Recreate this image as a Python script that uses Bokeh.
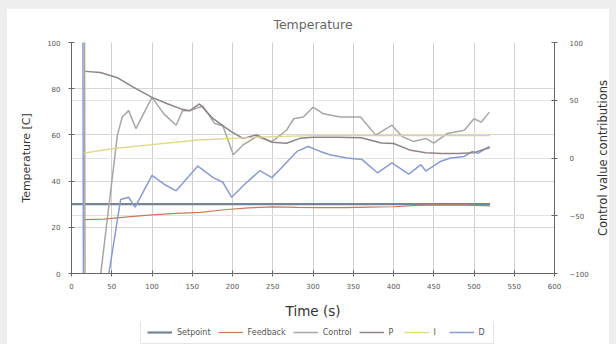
import math
from bokeh.plotting import figure
from bokeh.layouts import column, row
from bokeh.models import Range1d, LinearAxis, Legend, LegendItem, Grid, FixedTicker
from bokeh.core.properties import value
from bokeh.embed import file_html
from bokeh.resources import INLINE

# ---------------- data ----------------
x_ticks = [0, 50, 100, 150, 200, 250, 300, 350, 400, 450, 500, 550, 600]
left_ticks = [0, 20, 40, 60, 80, 100]
right_ticks = [-100, -50, 0, 50, 100]

t_setpoint = [0, 520]
setpoint = [30, 30]

t_feedback = [15, 40, 70, 100, 130, 160, 190, 220, 250, 280, 310, 340, 370, 400, 430, 460, 490, 520]
feedback = [23.3, 23.5, 24.5, 25.4, 26.0, 26.5, 27.6, 28.4, 28.8, 28.6, 28.5, 28.5, 28.7, 28.9, 29.5, 29.7, 29.6, 29.3]

t_control = [15, 18, 36, 57, 63, 71, 80, 100, 115, 130, 138, 147, 163, 178, 188, 201, 213, 230, 249,
             267, 276, 288, 300, 313, 334, 359, 378, 398, 411, 425, 440, 450, 467, 488, 500, 509, 519]
control = [500, -500, -102, 19.8, 35.5, 41, 25.5, 52.5, 38, 28.4, 41, 41, 45, 29.8, 28, 2.8, 11.3, 18.5, 14.2,
           24, 34, 35.5, 44, 38.3, 35.5, 35.5, 19.8, 28.4, 18.5, 14.2, 17, 12.8, 21.3, 24, 34, 31, 39.7]

t_p = [17, 36, 57, 75, 100, 119, 136, 147, 159, 176, 190, 199, 213, 230, 249, 267, 284, 300, 330, 360,
       385, 400, 420, 440, 460, 480, 500, 510, 520]
p_term = [75, 74, 69.5, 62, 52.5, 47, 42.5, 41, 46.8, 34, 27, 22.7, 17, 20, 13.6, 12.8, 17, 18, 18, 17.5,
          13, 12.5, 7, 4.5, 4, 4, 4.5, 7, 9]

t_i = [15, 50, 100, 157, 200, 250, 300, 520]
i_term = [4.3, 8, 11.5, 15.6, 17, 18.5, 19.3, 19.3]

t_d = [13, 16, 46, 61, 71, 79, 100, 115, 130, 157, 176, 188, 199, 215, 234, 249, 263, 280, 294, 309, 321,
       342, 361, 380, 398, 419, 434, 440, 459, 471, 488, 498, 505, 519]
d_term = [500, -500, -102, -36, -34, -42.6, -15, -22.7, -28.4, -7, -17, -21, -34, -22.7, -11, -17, -7, 5.7, 10,
          5.7, 2.8, 0, -1.4, -12.8, -4.3, -14, -5.7, -11.3, -2.8, 0, 1.4, 5.7, 4, 10]

series_names = ["Setpoint", "Feedback", "Control", "P", "I", "D"]
series_colors = ["#76849a", "#c77b5a", "#a6a6a6", "#8d8585", "#e0d68a", "#8a9bd0"]
series_widths = [2.2, 1.2, 1.5, 1.5, 1.3, 1.5]

title_text = "Temperature"
x_label = "Time (s)"
left_label = "Temperature [C]"
right_label = "Control value contributions"

FONT = "DejaVu Sans"

def strip(width, height, **borders):
    f = figure(width=width, height=height, output_backend="svg", toolbar_location=None,
               x_axis_type=None, y_axis_type=None,
               x_range=borders.pop("x_range", Range1d(0, 1)),
               y_range=borders.pop("y_range", Range1d(0, 1)), **borders)
    f.outline_line_color = None
    f.grid.visible = False
    f.background_fill_color = "white"
    f.border_fill_color = "white"
    return f

# ---------------- title strip ----------------
tf = strip(602, 24, min_border_left=64, min_border_right=55, min_border_top=0, min_border_bottom=0)
tf.text(x=[0.5], y=[0.375], text=[title_text], text_align="center", text_baseline="middle",
        text_font=value(FONT), text_font_size="12.5px", text_color="#666666")

# ---------------- main figure ----------------
p = figure(width=588, height=288, output_backend="svg", toolbar_location=None,
           x_range=Range1d(0, 600), y_range=Range1d(0, 100),
           min_border_left=64, min_border_right=41, min_border_top=9, min_border_bottom=44)
p.extra_y_ranges = {"ctrl": Range1d(-100, 100)}
p.outline_line_color = None
p.background_fill_color = "white"
p.border_fill_color = "white"

def style_axis(ax, label_size):
    ax.axis_line_color = "#666666"
    ax.major_tick_line_color = "#666666"
    ax.minor_tick_line_color = None
    ax.major_tick_in = 3
    ax.major_tick_out = 3
    ax.major_label_text_font = FONT
    ax.major_label_text_font_size = "7px"
    ax.major_label_text_color = "#555555"
    ax.axis_label_text_font = FONT
    ax.axis_label_text_font_style = "normal"
    ax.axis_label_text_color = "#333333"
    ax.axis_label_text_font_size = label_size

xa = p.xaxis[0]
xa.ticker = FixedTicker(ticks=x_ticks)
xa.axis_label = x_label
xa.major_label_standoff = 6
xa.axis_label_standoff = 11
style_axis(xa, "13.5px")

ya = p.yaxis[0]
ya.ticker = FixedTicker(ticks=left_ticks)
ya.axis_label = left_label
ya.major_label_standoff = 8
ya.axis_label_standoff = 11
style_axis(ya, "11px")

ra = LinearAxis(y_range_name="ctrl", ticker=FixedTicker(ticks=right_ticks))
ra.major_label_standoff = 12
style_axis(ra, "11px")
p.add_layout(ra, "right")

p.xgrid.ticker = FixedTicker(ticks=x_ticks)
p.xgrid.grid_line_color = "#cfcfcf"
p.ygrid.ticker = FixedTicker(ticks=left_ticks[1:-1])
p.ygrid.grid_line_color = "#d6d6d6"
g2 = Grid(dimension=1, ticker=FixedTicker(ticks=[-50, 0, 50]), y_range_name="ctrl",
          grid_line_color="#e2e2e2")
p.add_layout(g2)

p.line(t_setpoint, setpoint, line_color=series_colors[0], line_width=series_widths[0])
p.line(t_feedback, feedback, line_color=series_colors[1], line_width=series_widths[1])
p.line(t_d, d_term, line_color=series_colors[5], line_width=series_widths[5], y_range_name="ctrl")
p.line(t_control, control, line_color=series_colors[2], line_width=series_widths[2], y_range_name="ctrl")
p.line(t_p, p_term, line_color=series_colors[3], line_width=series_widths[3], y_range_name="ctrl")
p.line(t_i, i_term, line_color=series_colors[4], line_width=series_widths[4], y_range_name="ctrl")

# ---------------- right axis title strip ----------------
rl = strip(14, 288, y_range=p.y_range,
           min_border_left=0, min_border_right=0, min_border_top=9, min_border_bottom=44)
rl.text(x=[0.5], y=[50], text=[right_label], angle=math.pi / 2,
        text_align="center", text_baseline="middle",
        text_font=value(FONT), text_font_size="11.5px", text_color="#333333")

# ---------------- legend strip ----------------
lf = strip(602, 23, min_border_left=64, min_border_right=55, min_border_top=0, min_border_bottom=0)
items = []
for name, col, w in zip(series_names, series_colors, series_widths):
    r = lf.line(x=[float("nan")], y=[float("nan")], line_color=col, line_width=w)
    items.append(LegendItem(label=name, renderers=[r]))
legend = Legend(items=items, orientation="horizontal", location=(69, 0))
legend.label_text_font = FONT
legend.label_text_font_size = "8px"
legend.label_text_color = "#555555"
legend.glyph_width = 25
legend.glyph_height = 10
legend.label_height = 10
legend.label_width = 8
legend.label_standoff = 5
legend.spacing = 7
legend.padding = 6
legend.margin = 0
legend.border_line_color = "#cccccc"
legend.background_fill_color = "white"
lf.add_layout(legend)

inner = row(p, rl, spacing=0)
inner.styles = {"background-color": "white"}
layout = column(tf, inner, lf, spacing=0)
layout.styles = {"background-color": "white"}

template = """{% block postamble %}
<style>
html, body { background: #eeeeee !important; overflow: hidden !important; margin: 0 !important; }
body { padding: 9px 0 0 7px !important; }
</style>
{% endblock %}"""

open("out.html", "w").write(file_html(layout, INLINE, template=template))
